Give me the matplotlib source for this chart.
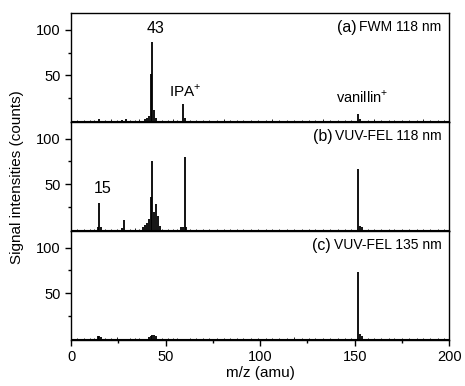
import numpy as np
import matplotlib.pyplot as plt
from matplotlib.ticker import FixedLocator

plt.rcParams['font.family'] = ['Liberation Sans', 'DejaVu Sans']
plt.rcParams['mathtext.fontset'] = 'custom'
plt.rcParams['mathtext.rm'] = 'Liberation Sans'

# (a) FWM 118 nm
mz_a = [15, 27, 29, 39, 40, 41, 42, 43, 44, 45, 59, 60, 152, 153]
int_a = [2, 1.5, 2, 2, 3, 6, 52, 86, 12, 4, 19, 3, 8, 2]
# (b) VUV-FEL 118 nm
mz_b = [14, 15, 16, 27, 28, 38, 39, 40, 41, 42, 43, 44, 45, 46, 47, 58, 59, 60, 61, 152, 153, 154]
int_b = [3, 30, 4, 2, 11, 3, 6, 8, 12, 36, 76, 20, 29, 15, 5, 3, 4, 80, 4, 67, 5, 3]
# (c) VUV-FEL 135 nm
mz_c = [14, 15, 16, 41, 42, 43, 44, 45, 152, 153, 154]
int_c = [3, 3, 2, 2, 3, 4, 4, 3, 73, 6, 3]

# small baseline noise
noise_mz = [3, 7, 10, 12, 18, 21, 24, 31, 34, 36, 48, 51, 54, 56, 63, 66, 70, 73, 77, 81,
            84, 88, 91, 95, 99, 103, 106, 110, 114, 118, 122, 126, 129, 133, 137, 141,
            145, 148, 157, 160, 164, 168, 171, 175, 179, 183, 186, 190, 194, 197]
noise_a = [1, 1.5, 1, 1.5, 1, 2, 1, 1.5, 1, 2, 1, 1.5, 2, 1, 1.5, 1, 1, 1.5, 1, 2,
           1, 1.5, 1, 1, 1.5, 1, 2, 1, 1.5, 1, 1, 1.5, 1, 2, 1, 1.5,
           1, 1.5, 1, 2, 1, 1.5, 1, 1, 1.5, 1, 2, 1, 1.5, 1]
noise_b = [1, 1, 1.5, 1, 1, 1.5, 1, 1, 2, 1, 1, 1, 1.5, 1, 1, 1, 1, 1, 1, 1.5,
           1, 1, 1, 1, 1, 1, 1.5, 1, 1, 1, 1, 1, 1, 1.5, 1, 1,
           1, 1, 1, 1, 1, 1.5, 1, 1, 1, 1, 1.5, 1, 1, 1]
noise_c = [1, 1.5, 1, 1, 1.5, 1, 2, 1, 1.5, 1, 1, 1.5, 1, 1, 1.5, 1, 1, 1.5, 1, 1,
           1.5, 1, 1, 1.5, 1, 1, 1.5, 1, 1, 2, 1, 1, 1.5, 1, 1, 1.5,
           1, 1, 1.5, 1, 1, 1.5, 1, 1, 1.5, 1, 1, 1.5, 1, 1]

panels = [
    (mz_a, int_a, noise_a, '(a)', 'FWM 118 nm'),
    (mz_b, int_b, noise_b, '(b)', 'VUV-FEL 118 nm'),
    (mz_c, int_c, noise_c, '(c)', 'VUV-FEL 135 nm'),
]

fig = plt.figure(figsize=(4.65, 3.86), dpi=100)
gs = fig.add_gridspec(3, 1, left=0.153, right=0.966, top=0.966, bottom=0.119, hspace=0)
axes = [fig.add_subplot(gs[i]) for i in range(3)]

for ax, (mz, inten, noise, tag, label) in zip(axes, panels):
    ax.plot([0, 200], [0, 0], color='k', lw=0.8)
    ax.vlines(noise_mz, 0, noise, color='k', lw=0.6)
    ax.vlines(mz, 0, inten, color='k', lw=1.3)
    ax.set_xlim(0, 200)
    ax.set_ylim(-1, 118)
    ax.yaxis.set_major_locator(FixedLocator([50, 100]))
    ax.yaxis.set_minor_locator(FixedLocator([25, 75]))
    ax.xaxis.set_major_locator(FixedLocator([0, 50, 100, 150, 200]))
    ax.xaxis.set_minor_locator(FixedLocator([25, 75, 125, 175]))
    ax.tick_params(axis='both', which='major', direction='out', length=4, width=1, labelsize=10.5)
    ax.tick_params(axis='both', which='minor', direction='out', length=2.5, width=1)
    for s in ax.spines.values():
        s.set_linewidth(1.0)
    t = ax.text(0.98, 0.87, label, transform=ax.transAxes, ha='right', va='center', fontsize=10)
    ax.annotate(tag, xy=(0, 0.5), xycoords=t, xytext=(-2, 0), textcoords='offset points',
                ha='right', va='center', fontsize=11.5)

for ax in axes[:2]:
    ax.tick_params(axis='x', which='both', bottom=False, labelbottom=False)

axes[0].text(44.5, 93, '43', ha='center', va='bottom', fontsize=11.5)
axes[0].text(60.5, 24, 'IPA$^{+}$', ha='center', va='bottom', fontsize=11)
axes[0].text(154, 17, 'vanillin$^{+}$', ha='center', va='bottom', fontsize=10.5)
axes[1].text(16.5, 37, '15', ha='center', va='bottom', fontsize=11.5)

axes[2].set_xlabel('m/z (amu)', fontsize=11, labelpad=1)
fig.text(0.037, 0.54, 'Signal intensities (counts)', rotation=90, ha='center', va='center', fontsize=11)

fig.savefig('out.png', dpi=100)
